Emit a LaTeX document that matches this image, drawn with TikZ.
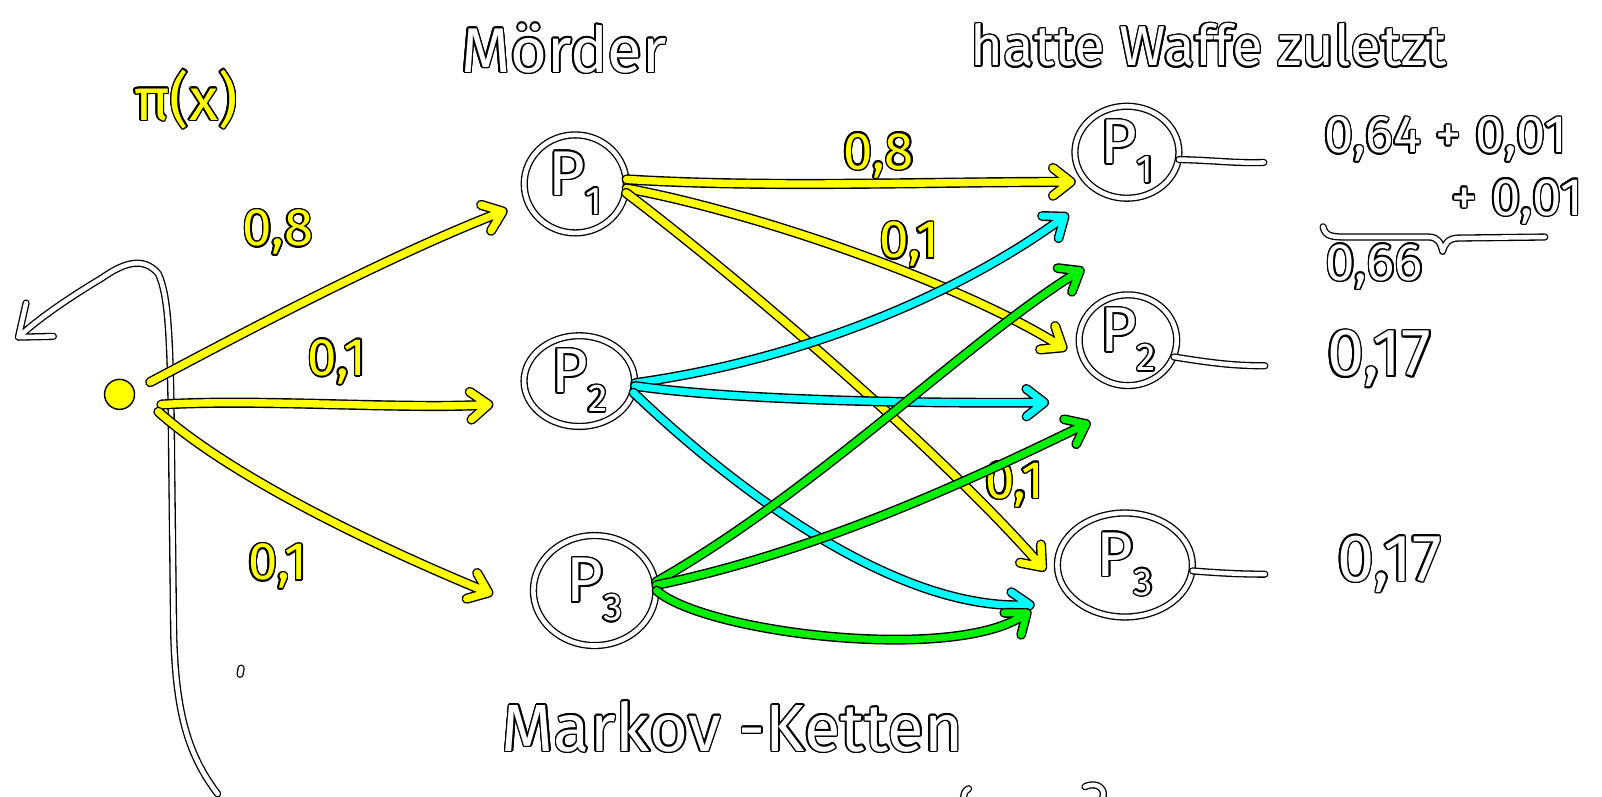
\documentclass[tikz,border=0pt]{standalone}
\usepackage{fontspec}
\setmainfont{Fira Sans}
\usepackage{contour}
\contourlength{0.9pt}
\usetikzlibrary{calc,shapes.geometric}
\definecolor{hy}{RGB}{255,255,0}
\definecolor{hc}{RGB}{0,255,255}
\definecolor{hg}{RGB}{0,240,0}
\newcommand\wtxt[1]{\contour{black}{\textcolor{white}{#1}}}
\newcommand\ytxt[1]{\contour{black}{\textcolor{hy}{#1}}}
\newcommand\ptxt[1]{\wtxt{P\raisebox{-0.3em}{\fontsize{22}{22}\selectfont #1}}}
% arrow: style, path ending at tip, tip, reference point, wing length
\newcommand\harr[5]{\draw[#1] #2 ($(#3)!#5!38:(#4)$) -- (#3) -- ($(#3)!#5!-38:(#4)$);}
\begin{document}
\begin{tikzpicture}[x=0.020434cm,y=-0.020434cm,
  wline/.style={draw=black,line width=0.75pt,double=white,double distance=2.6pt,line cap=round,line join=round},
  yline/.style={draw=black,line width=0.8pt,double=hy,double distance=4.2pt,line cap=round,line join=round},
  cline/.style={draw=black,line width=0.8pt,double=hc,double distance=4.0pt,line cap=round,line join=round},
  gline/.style={draw=black,line width=0.8pt,double=hg,double distance=4.0pt,line cap=round,line join=round},
  pn/.style={ellipse,wline,inner sep=0pt,font=\fontsize{36}{36}\selectfont},
  lab/.style={inner sep=0pt,font=\fontsize{30}{30}\selectfont},
  big/.style={inner sep=0pt,font=\fontsize{34}{34}\selectfont},
]
\useasboundingbox (0,0) rectangle (1568,780);
\fill[white] (0,0) rectangle (1568,780);

% axis line with arrow
\coordinate (ax0) at (213,777);
\coordinate (axt) at (18,330);
\harr{wline}{(ax0) .. controls (185,740) and (172,700) .. (170,620) -- (168,450) .. controls (167,330) and (165,290) .. (155,268) .. controls (140,250) and (120,258) .. (100,272) .. controls (70,290) and (40,310) .. (axt)}{axt}{40,312}{0.7cm}
\draw[wline] (236,654) -- (235,660);
\draw[wline] (948,772) .. controls (944,775) .. (943,781);
\draw[wline] (1062,770) .. controls (1075,764) and (1083,774) .. (1079,781);

% titles
\node[big] (pix) at (182,98) {\ytxt{π(x)}};
\node[inner sep=0pt,font=\fontsize{36}{36}\selectfont] (moe) at (552,48) {\wtxt{Mörder}};
\node[inner sep=0pt,font=\fontsize{32}{32}\selectfont] (waf) at (1183,45) {\wtxt{hatte Waffe zuletzt}};
\node[inner sep=0pt,font=\fontsize{38}{38}\selectfont] (mk) at (717,712) {\wtxt{Markov -Ketten}};

% nodes
\node[circle,fill=hy,draw=black,line width=0.8pt,minimum size=0.6cm,inner sep=0pt] (dot) at (117,386) {};
\node[pn,minimum width=2.04cm,minimum height=1.96cm] (m1) at (563,180) {\ptxt{1}};
\node[pn,minimum width=2.21cm,minimum height=1.8cm] (m2) at (567,373) {\ptxt{2}};
\node[pn,minimum width=2.45cm,minimum height=2.2cm] (m3) at (582,578) {\ptxt{3}};
\node[pn,minimum width=2.08cm,minimum height=1.84cm] (r1) at (1103,149) {\ptxt{1}};
\node[pn,minimum width=1.95cm,minimum height=1.8cm] (r2) at (1104,333) {\ptxt{2}};
\node[pn,minimum width=2.7cm,minimum height=2.08cm] (r3) at (1101,553) {\ptxt{3}};

% tails and results
\coordinate (e1) at (1237,159);
\coordinate (e2) at (1238,358);
\coordinate (e3) at (1238,562);
\draw[wline] (r1.-8) .. controls (1190,157) and (1210,160) .. (e1);
\draw[wline] (r2.-20) .. controls (1190,356) and (1210,358) .. (e2);
\draw[wline] (r3.-5) .. controls (1195,561) and (1215,562) .. (e3);
\node[lab] (s1) at (1415,137) {\wtxt{0,64 + 0,01}};
\node[lab] (s2) at (1485,198) {\wtxt{+ 0,01}};
\draw[wline] (1295,222) .. controls (1297,232) and (1305,232) .. (1320,232) -- (1398,232) .. controls (1408,232) and (1410,238) .. (1412,246) .. controls (1414,238) and (1418,233) .. (1428,233) -- (1512,232);
\node[lab] (s3) at (1345,262) {\wtxt{0,66}};
\node[inner sep=0pt,font=\fontsize{38}{38}\selectfont] (s4) at (1350,352) {\wtxt{0,17}};
\node[inner sep=0pt,font=\fontsize{38}{38}\selectfont] (s5) at (1360,553) {\wtxt{0,17}};

% yellow from dot
\coordinate (a1s) at (147,374); \coordinate (a1t) at (492,207);
\coordinate (a2s) at (158,396); \coordinate (a2t) at (478,396);
\coordinate (a3s) at (155,403); \coordinate (a3t) at (478,580);
\harr{yline}{(a1s) .. controls (230,330) and (380,250) .. (a1t)}{a1t}{380,250}{0.45cm}
\harr{yline}{(a2s) .. controls (250,390) and (400,401) .. (a2t)}{a2t}{400,401}{0.45cm}
\harr{yline}{(a3s) .. controls (230,470) and (380,540) .. (a3t)}{a3t}{380,540}{0.45cm}
\node[lab] (l1) at (272,228) {\ytxt{0,8}};
\node[lab] (l2) at (330,355) {\ytxt{0,1}};
\node[lab] (l3) at (272,555) {\ytxt{0,1}};

% yellow from m1
\coordinate (b1t) at (1048,178);
\coordinate (b2t) at (1040,340);
\coordinate (b3t) at (1020,555);
\harr{yline}{(m1.5) .. controls (750,184) and (900,178) .. (b1t)}{b1t}{900,178}{0.45cm}
\harr{yline}{(m1.-5) .. controls (750,210) and (950,282) .. (b2t)}{b2t}{950,282}{0.45cm}
\harr{yline}{(m1.-10) .. controls (720,270) and (920,440) .. (b3t)}{b3t}{920,440}{0.45cm}
\node[lab] (l4) at (860,153) {\ytxt{0,8}};
\node[lab] (l5) at (890,240) {\ytxt{0,1}};
\node[lab] (l6) at (993,475) {\ytxt{0,1}};

% cyan from m2
\coordinate (c1t) at (1042,212);
\coordinate (c2t) at (1022,394);
\coordinate (c3t) at (1008,592);
\harr{cline}{(m2.-2) .. controls (800,350) and (950,280) .. (c1t)}{c1t}{950,280}{0.45cm}
\harr{cline}{(m2.-5) .. controls (720,392) and (900,395) .. (c2t)}{c2t}{900,395}{0.45cm}
\harr{cline}{(m2.-12) .. controls (720,480) and (880,600) .. (c3t)}{c3t}{880,600}{0.45cm}

% green from m3
\coordinate (g1t) at (1057,265);
\coordinate (g2t) at (1063,415);
\coordinate (g3t) at (1005,600);
\harr{gline}{(m3.8) .. controls (800,480) and (950,330) .. (g1t)}{g1t}{950,330}{0.45cm}
\harr{gline}{(m3.5) .. controls (800,540) and (950,470) .. (g2t)}{g2t}{950,470}{0.45cm}
\harr{gline}{(m3.0) .. controls (690,620) and (940,650) .. (g3t)}{g3t}{940,650}{0.45cm}
\end{tikzpicture}
\end{document}
